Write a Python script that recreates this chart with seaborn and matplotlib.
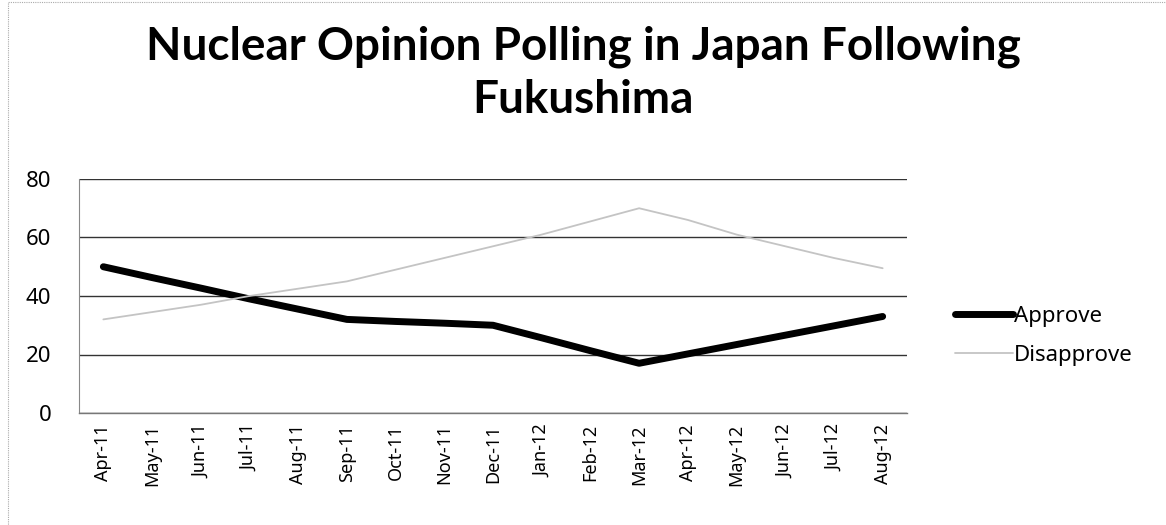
"""
Nuclear opinion polling in Japan following Fukushima - line chart.
"""

import numpy as np
import pandas as pd
import matplotlib
matplotlib.use('Agg')
import matplotlib.pyplot as plt
from matplotlib.lines import Line2D
import seaborn as sns

# Datos
months = ['Apr-11', 'May-11', 'Jun-11', 'Jul-11', 'Aug-11', 'Sep-11',
          'Oct-11', 'Nov-11', 'Dec-11', 'Jan-12', 'Feb-12', 'Mar-12',
          'Apr-12', 'May-12', 'Jun-12', 'Jul-12', 'Aug-12']
approve = [50, 46.3, 42.7, 39, 35.5, 32, 31.3, 30.7, 30, 25.7, 21.3, 17,
           20.2, 23.4, 26.6, 29.8, 33]
disapprove = [32, 34.5, 37, 40, 42.5, 45, 49, 53, 57, 61, 65.5, 70,
              66, 61, 57, 53, 49.5]
y_ticks = [0, 20, 40, 60, 80]

sns.set_theme(style='white')
plt.rcParams['font.family'] = ['Noto Sans', 'DejaVu Sans']
plt.rcParams['text.color'] = 'black'
plt.rcParams['xtick.color'] = 'black'
plt.rcParams['ytick.color'] = 'black'

df = pd.DataFrame({'month': months, 'Approve': approve, 'Disapprove': disapprove})
df['pos'] = np.arange(len(months))
long_df = df.melt(id_vars=['month', 'pos'], var_name='series', value_name='value')

fig = plt.figure(figsize=(11.66, 5.25), dpi=100)
ax = fig.add_axes([79 / 1166, 112 / 525, 828 / 1166, 234 / 525])

sns.lineplot(
    data=long_df, x='pos', y='value', hue='series', size='series',
    palette={'Approve': '#000000', 'Disapprove': '#c4c4c4'},
    sizes={'Approve': 5.0, 'Disapprove': 1.3},
    ax=ax, legend=False,
)
for line in ax.get_lines():
    line.set_solid_capstyle('round')

ax.set_xlim(-0.5, len(months) - 0.5)
ax.set_ylim(0, 80)
ax.set_yticks(y_ticks)
ax.set_yticklabels([str(v) for v in y_ticks], fontsize=16, fontweight='medium')
ax.set_xticks(df['pos'])
ax.set_xticklabels(months, rotation=90, fontsize=13, fontweight='medium')
ax.set_xticks(np.arange(-0.5, len(months)), minor=True)
ax.tick_params(axis='x', which='major', length=0, pad=8)
ax.tick_params(axis='x', which='minor', length=5, color='#777777', width=0.8, direction='out')
ax.tick_params(axis='y', length=5, color='#777777', width=0.8, direction='in', pad=20)
ax.set_xlabel('')
ax.set_ylabel('')

ax.yaxis.grid(True, color='#333333', linewidth=1.0)
ax.set_axisbelow(True)
for side in ['top', 'right']:
    ax.spines[side].set_visible(False)
ax.spines['left'].set_color('#888888')
ax.spines['left'].set_linewidth(0.8)
ax.spines['bottom'].set_color('#777777')
ax.spines['bottom'].set_linewidth(1.0)

# Leyenda manual al estilo de Excel
handles = [
    Line2D([], [], color='#000000', linewidth=5.0, solid_capstyle='round'),
    Line2D([], [], color='#c4c4c4', linewidth=1.3),
]
fig.legend(handles, ['Approve', 'Disapprove'], loc='center left',
           bbox_to_anchor=(935 / 1166, 1 - 336 / 525), frameon=False,
           prop={'size': 16, 'weight': 'medium'},
           handlelength=2.6, handletextpad=0.05, labelspacing=0.8)

fig.text(0.5, 1 - 47 / 525, 'Nuclear Opinion Polling in Japan Following',
         ha='center', va='center', fontsize=33, fontweight='bold',
         family=['Lato', 'DejaVu Sans'])
fig.text(0.5, 1 - 100 / 525, 'Fukushima',
         ha='center', va='center', fontsize=33, fontweight='bold',
         family=['Lato', 'DejaVu Sans'])

# Borde del área del gráfico
fig.patches.append(plt.Rectangle((8 / 1166, -0.01), 1.1, 1 - 2 / 525 + 0.01,
                                 transform=fig.transFigure, fill=False,
                                 edgecolor='#aaaaaa', linewidth=0.8,
                                 linestyle=(0, (1, 1))))

fig.savefig('out.png', dpi=100)
